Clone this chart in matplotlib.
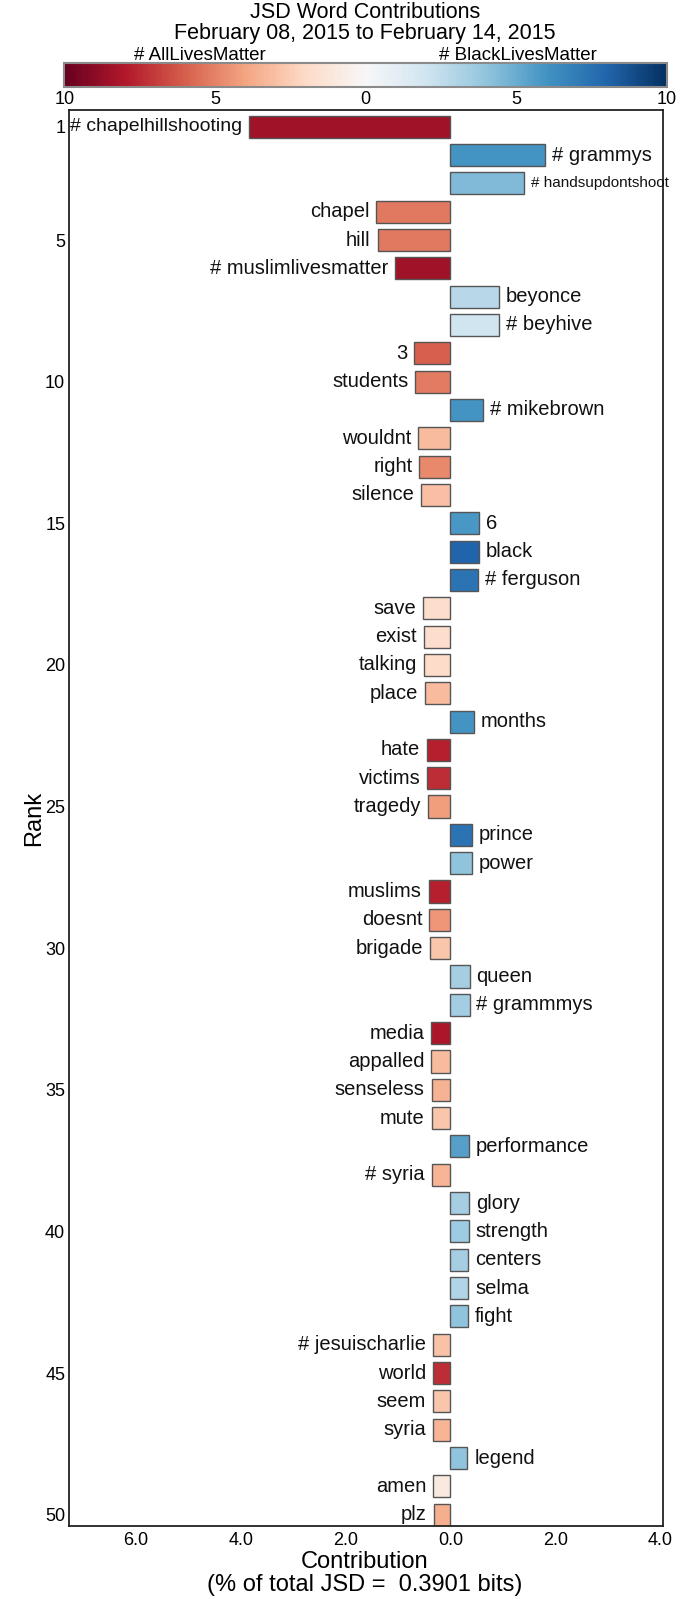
import numpy as np
import matplotlib
matplotlib.use('Agg')
import matplotlib.pyplot as plt
from matplotlib.colors import Normalize
from matplotlib.cm import ScalarMappable

plt.rcParams['font.family'] = ['Liberation Sans', 'DejaVu Sans']

# words ranked by contribution (negative = #AllLivesMatter side)
words = ['# chapelhillshooting', '# grammys', '# handsupdontshoot', 'chapel', 'hill',
         '# muslimlivesmatter', 'beyonce', '# beyhive', '3', 'students',
         '# mikebrown', 'wouldnt', 'right', 'silence', '6',
         'black', '# ferguson', 'save', 'exist', 'talking',
         'place', 'months', 'hate', 'victims', 'tragedy',
         'prince', 'power', 'muslims', 'doesnt', 'brigade',
         'queen', '# grammmys', 'media', 'appalled', 'senseless',
         'mute', 'performance', '# syria', 'glory', 'strength',
         'centers', 'selma', 'fight', '# jesuischarlie', 'world',
         'seem', 'syria', 'legend', 'amen', 'plz']
contrib = [-3.84, 1.80, 1.41, -1.41, -1.39,
           -1.05, 0.93, 0.93, -0.69, -0.67,
           0.63, -0.61, -0.59, -0.56, 0.55,
           0.54, 0.525, -0.525, -0.50, -0.50,
           -0.48, 0.45, -0.445, -0.44, -0.43,
           0.415, 0.41, -0.41, -0.40, -0.38,
           0.365, 0.365, -0.365, -0.365, -0.36,
           -0.36, 0.355, -0.355, 0.35, 0.35,
           0.345, 0.34, 0.34, -0.34, -0.33,
           -0.33, -0.33, 0.325, -0.325, -0.32]
# colour value on the -10..10 colour bar
shade = [-8.5, 6, 4.4, -5.3, -5.3,
         -8.5, 2.8, 2.0, -6, -5.2,
         6, -3.2, -4.8, -3.0, 5.8,
         8, 7.4, -1.8, -1.8, -1.9,
         -3.2, 6, -7.8, -7.4, -4.2,
         7.4, 4, -7.8, -4.4, -2.8,
         3.4, 3.5, -8.2, -3.2, -3.5,
         -2.8, 5.5, -3.4, 3.4, 3.6,
         3.4, 3.0, 4, -2.9, -7.4,
         -2.8, -3.4, 4, -1.0, -3.6]
ranks = np.arange(1, len(words) + 1)
ytick_vals = [1, 5, 10, 15, 20, 25, 30, 35, 40, 45, 50]
xtick_vals = [-6, -4, -2, 0, 2, 4]
cbar_ticks = [-10, -5, 0, 5, 10]

W, H = 697, 1599
fig = plt.figure(figsize=(W / 100, H / 100), dpi=100)

cmap = plt.get_cmap('RdBu')
norm = Normalize(-10, 10)

ax = fig.add_axes([69.3 / W, 1 - 1526 / H, (662.7 - 69.3) / W, (1526 - 110) / H])
ax.barh(ranks, contrib, height=0.78, color=cmap(norm(np.array(shade))),
        edgecolor='#555555', linewidth=1.0)

for r, w, c in zip(ranks, words, contrib):
    size = 14.5
    if w == '# handsupdontshoot':
        size = 11
    elif r == 1:
        size = 14
    if c < 0:
        ax.annotate(w, (c, r), xytext=(-5, 0), textcoords='offset points',
                    ha='right', va='center', fontsize=size, color='#111111')
    else:
        ax.annotate(w, (c, r), xytext=(5, 0), textcoords='offset points',
                    ha='left', va='center', fontsize=size, color='#111111')

ax.set_xlim(-7.27, 4.05)
ax.set_ylim(50.4, 0.41)
ax.set_yticks(ytick_vals)
ax.set_yticklabels([str(v) for v in ytick_vals], fontsize=13)
ax.set_xticks(xtick_vals)
ax.set_xticklabels(['%.1f' % abs(v) for v in xtick_vals], fontsize=13)
ax.tick_params(axis='both', length=0)
ax.tick_params(axis='y', pad=3)
ax.tick_params(axis='x', pad=4)
for s in ax.spines.values():
    s.set_color('#222222')
    s.set_linewidth(1.3)

# colour bar on top
cax = fig.add_axes([64.3 / W, 1 - 87.3 / H, (667 - 64.3) / W, 24 / H])
cb = fig.colorbar(ScalarMappable(norm=norm, cmap=cmap), cax=cax, orientation='horizontal')
cb.set_ticks(cbar_ticks)
cb.set_ticklabels([str(abs(v)) for v in cbar_ticks])
cax.tick_params(length=0, labelsize=13, pad=3)
cb.outline.set_edgecolor('#8a8a8a')
cb.outline.set_linewidth(1.5)

fig.text(200 / W, 1 - 55 / H, '# AllLivesMatter', ha='center', va='center', fontsize=13.5)
fig.text(518 / W, 1 - 55 / H, '# BlackLivesMatter', ha='center', va='center', fontsize=13.5)

fig.text(365 / W, 1 - 12 / H, 'JSD Word Contributions', ha='center', va='center', fontsize=15.5)
fig.text(365 / W, 1 - 33 / H, 'February 08, 2015 to February 14, 2015',
         ha='center', va='center', fontsize=15.5)

fig.text(365 / W, 1 - 1562 / H, 'Contribution', ha='center', va='center', fontsize=17)
fig.text(365 / W, 1 - 1585 / H, '(% of total JSD =  0.3901 bits)',
         ha='center', va='center', fontsize=17)
fig.text(34 / W, 1 - 818 / H, 'Rank', ha='center', va='center', rotation=90, fontsize=17)

fig.savefig('out.png', dpi=100)
